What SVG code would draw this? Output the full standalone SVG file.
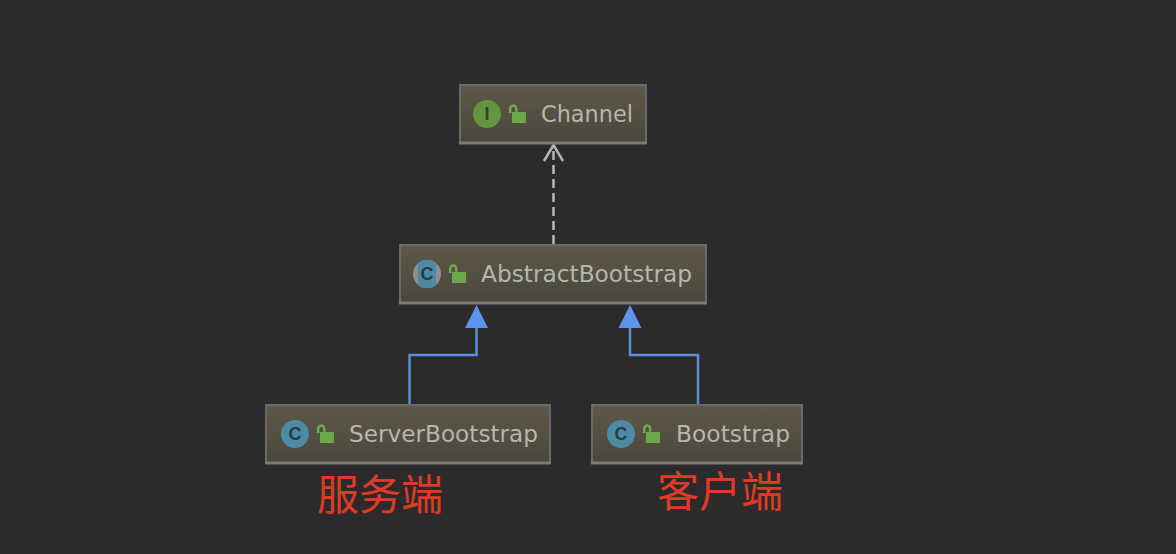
<svg xmlns="http://www.w3.org/2000/svg" width="1176" height="554" viewBox="0 0 1176 554">
<style>
.box{fill:url(#g);stroke:#6a6a68;stroke-width:2}
.bot{stroke:#7b7b7a;stroke-width:3}
.t{font-family:"DejaVu Sans","Liberation Sans",sans-serif;font-size:23px;fill:#b4b6b0}
.i{font-family:"Liberation Sans",sans-serif;font-size:18px;font-weight:bold;fill:#33402c;text-anchor:middle}
.r{font-family:"Noto Sans CJK SC",sans-serif;font-size:42px;font-weight:400;fill:#e03a26}
.lk{fill:#6ea84c}
.ls{fill:none;stroke:#6ea84c;stroke-width:2.500}
.con{fill:none;stroke:#5c8fdb;stroke-width:2.500}
.tri{fill:#5c93ec}
</style>
<defs>
<linearGradient id="g" x1="0" y1="0" x2="0" y2="1"><stop offset="0" stop-color="#5f5949"/><stop offset="1" stop-color="#49463a"/></linearGradient>
<g id="lock"><rect x="3" y="7" width="14" height="11" class="lk"/><path d="M1.200 8V3.500a3 3 0 0 1 6 0V7" class="ls"/></g>
</defs>
<rect width="1176" height="554" fill="#2b2b2b"/>
<g id="connectors">
<path d="M553.500 244V147" fill="none" stroke="#b8b8b8" stroke-width="2.500" stroke-dasharray="9 5"/>
<path d="M544 161L553.500 145L563 161" fill="none" stroke="#b5b5b5" stroke-width="2.500"/>
<path class="con" d="M409.500 404V355H476.500V326"/>
<path class="tri" d="M476.500 305L465 328H488Z"/>
<path class="con" d="M698 404V355H630V326"/>
<path class="tri" d="M630 305L618.500 328H641.500Z"/>
</g>
<g id="node-channel">
<rect class="box" x="460" y="85" width="186" height="58"/>
<path class="bot" d="M459 143H647"/>
<circle cx="487" cy="114" r="14" fill="#64953f"/>
<text class="i" x="487" y="120">I</text>
<use href="#lock" x="509" y="105"/>
<text class="t" x="541" y="122" textLength="92" lengthAdjust="spacingAndGlyphs">Channel</text>
</g>
<g id="node-abstractbootstrap">
<rect class="box" x="400" y="245" width="306" height="58"/>
<path class="bot" d="M399 303H707"/>
<circle cx="427" cy="274" r="14" fill="#8b8f8d"/>
<rect x="418" y="260" width="18" height="28" rx="6" fill="#4d8ba5"/>
<text class="i" x="427" y="280" style="fill:#233c48">C</text>
<use href="#lock" x="449" y="265"/>
<text class="t" x="481" y="282" textLength="211" lengthAdjust="spacingAndGlyphs">AbstractBootstrap</text>
</g>
<g id="node-serverbootstrap">
<rect class="box" x="266" y="405" width="284" height="58"/>
<path class="bot" d="M265 463H551"/>
<circle cx="295" cy="434" r="14" fill="#4d8ba5"/>
<text class="i" x="295" y="440" style="fill:#233c48">C</text>
<use href="#lock" x="317" y="425"/>
<text class="t" x="349" y="442" textLength="189" lengthAdjust="spacingAndGlyphs">ServerBootstrap</text>
</g>
<g id="node-bootstrap">
<rect class="box" x="592" y="405" width="210" height="58"/>
<path class="bot" d="M591 463H803"/>
<circle cx="621" cy="434" r="14" fill="#4d8ba5"/>
<text class="i" x="621" y="440" style="fill:#233c48">C</text>
<use href="#lock" x="643" y="425"/>
<text class="t" x="676" y="442" textLength="114" lengthAdjust="spacingAndGlyphs">Bootstrap</text>
</g>
<text class="r" x="317" y="510">服务端</text>
<text class="r" x="657" y="507">客户端</text>
</svg>
